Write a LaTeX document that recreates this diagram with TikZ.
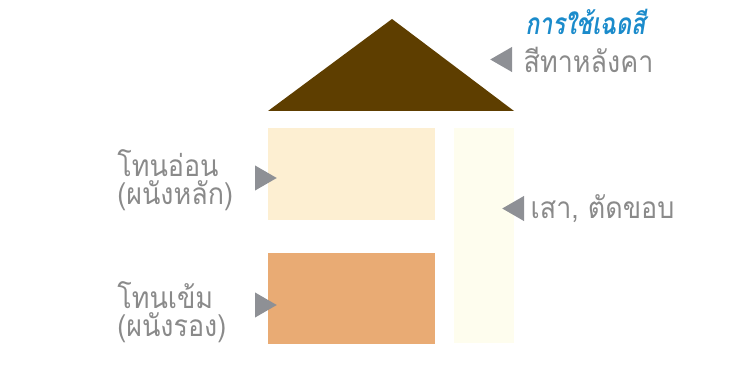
\documentclass[tikz,border=0pt]{standalone}
\usepackage{fontspec}
\newfontfamily\thaifont[Script=Thai, FakeStretch=0.9]{Loma}
\newfontfamily\thaititle[Script=Thai, FakeStretch=0.78]{Loma}
\usetikzlibrary{positioning, shapes.geometric}

\definecolor{roofbrown}{RGB}{94,62,0}
\definecolor{lightwall}{RGB}{253,239,210}
\definecolor{darkwall}{RGB}{233,171,116}
\definecolor{pillarwall}{RGB}{254,253,238}
\definecolor{titleblue}{RGB}{27,139,203}
\definecolor{textgray}{RGB}{138,138,138}
\definecolor{pointergray}{RGB}{142,144,149}

\begin{document}
\begin{tikzpicture}[
    font=\thaifont\fontsize{17}{16.2}\selectfont,
    % wall blocks
    wallbox/.style={
        draw=none,
        inner sep=0pt,
        minimum width=3.34cm
    },
    % small gray triangles
    pointer/.style={
        regular polygon,
        regular polygon sides=3,
        fill=pointergray,
        inner sep=0pt,
        minimum size=0.58cm
    },
    % gray labels
    graytext/.style={
        text=textgray,
        align=left,
        inner sep=0pt
    }
]

    \useasboundingbox (0,0) rectangle (15.08,7.42);

    % --- 1. roof ---
    \fill[roofbrown] (5.36,5.20) -- (7.84,7.04) -- (10.28,5.20) -- cycle;

    % --- 2. walls and pillar ---
    \node[wallbox, fill=lightwall, minimum height=1.84cm, anchor=north west] (mainwall) at (5.36,4.86) {};
    \node[wallbox, fill=darkwall, minimum height=1.82cm, below=0.64cm of mainwall] (sidewall) {};
    \node[wallbox, fill=pillarwall, minimum width=1.20cm, minimum height=4.30cm,
          right=0.36cm of mainwall.north east, anchor=north west] (pillar) {};

    % --- 3. pointers ---
    \node[pointer, shape border rotate=-90] (ptLight) at (5.245,3.86) {};
    \node[pointer, shape border rotate=-90] (ptDark) at (5.245,1.32) {};
    \node[pointer, shape border rotate=90] (ptRoof) at (10.095,6.23) {};
    \node[pointer, shape border rotate=90] (ptPillar) at (10.335,3.25) {};

    % --- 4. labels ---
    \node[graytext, anchor=base west] (lblLight) at (2.34,3.32) {โทนอ่อน\\(ผนังหลัก)};
    \node[graytext, anchor=base west] (lblDark) at (2.34,0.68) {โทนเข้ม\\(ผนังรอง)};
    \node[graytext, right=0.22cm of ptRoof.east] (lblRoof) {สีทาหลังคา};
    \node[graytext, right=0.12cm of ptPillar.east] (lblPillar) {เสา, ตัดขอบ};

    % title
    \node[text=titleblue, font=\thaititle\fontsize{17}{20}\selectfont\bfseries\itshape,
          inner sep=0pt, anchor=west] (title) at (10.50,6.98) {การใช้เฉดสี};

\end{tikzpicture}
\end{document}
